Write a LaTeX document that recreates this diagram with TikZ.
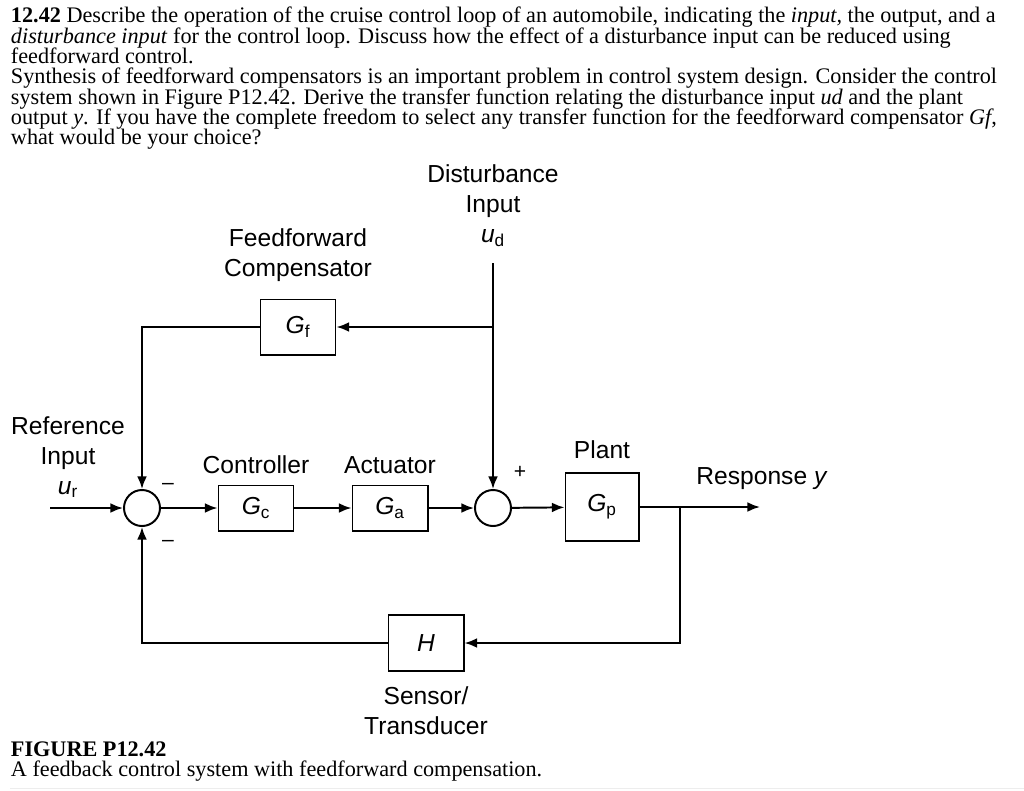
\documentclass[tikz,border=0pt]{standalone}
\usepackage{fontspec}
\setmainfont{Liberation Serif}
\newfontfamily\diagfont{Liberation Sans}
\usetikzlibrary{arrows.meta, positioning}
\newcommand{\sig}[2]{{\itshape #1}\textsubscript{#2}}
\lineskiplimit=-20pt

\begin{document}
\begin{tikzpicture}[x=0.025cm, y=-0.025cm, line width=1.4pt, >={Latex[length=9pt,width=7pt]}]
      \tikzstyle{block}=[rectangle, draw, inner sep=0pt, minimum width=1.875cm, minimum height=1.125cm, font=\diagfont\fontsize{17.5}{21}\selectfont]
      \tikzstyle{junction}=[circle, draw, inner sep=0pt, minimum size=0.9cm]
      \tikzstyle{tag}=[inner sep=0pt, align=center, font=\diagfont\fontsize{17.5}{21.3}\selectfont]
      \tikzstyle{sign}=[inner sep=0pt, font=\diagfont\fontsize{15}{16}\selectfont]
      \tikzstyle{prose}=[inner sep=0pt, align=left, anchor=west, font=\fontsize{15.8}{14.5}\selectfont]
      \useasboundingbox (0,0) rectangle (1024,790);
      \node[prose, anchor=north west] (question) at (10,6) {\textbf{12.42} Describe the operation of the cruise control loop of an automobile, indicating the \emph{input,} the output, and a\\
        \emph{disturbance input} for the control loop. Discuss how the effect of a disturbance input can be reduced using\\
        feedforward control.\\
        Synthesis of feedforward compensators is an important problem in control system design. Consider the control\\
        system shown in Figure P12.42. Derive the transfer function relating the disturbance input \emph{ud} and the plant\\
        output \emph{y}. If you have the complete freedom to select any transfer function for the feedforward compensator \emph{Gf},\\
        what would be your choice?};
      \node[junction] (s1) at (142,508) {};
      \node[block] (gc) at (256,508) {\sig{G}{c}};
      \node[block] (ga) at (390,508) {\sig{G}{a}};
      \node[junction] (s2) at (493,508) {};
      \node[block, minimum width=1.825cm, minimum height=1.7cm] (gp) at (602,507) {\sig{G}{p}};
      \node[block, minimum height=1.375cm] (gf) at (298,327) {\sig{G}{f}};
      \node[block, minimum height=1.4cm] (h) at (426,643) {\textit{H}};
      \node[tag, above=0.25cm of gc] (controller) {Controller};
      \node[tag, above=0.25cm of ga] (actuator) {Actuator};
      \node[tag, above=0.3cm of gp] (plant) {Plant};
      \node[tag, above=0.4cm of gf] (ffwd) {Feedforward\\Compensator};
      \node[tag, below=0.35cm of h] (sensor) {Sensor/\\Transducer};
      \node[tag] (refin) at (68,457) {Reference\\Input\\\sig{u}{r}};
      \node[tag] (distin) at (493,206) {Disturbance\\Input\\\sig{u}{d}};
      \node[tag] (resp) at (762,479) {Response \textit{y}};
      \node[sign] (m1) at (168,486) {\textendash};
      \node[sign] (m2) at (168,543) {\textendash};
      \node[sign] (p2) at (520,472) {+};
      \coordinate (uin) at (50,508);
      \coordinate (udin) at (493,263);
      \coordinate (udfork) at (493,327);
      \coordinate (yfork) at (680,507);
      \coordinate (yout) at (760,507);
      \draw[->] (uin) -- (s1);
      \draw[->] (s1) -- (gc);
      \draw[->] (gc) -- (ga);
      \draw[->] (ga) -- (s2);
      \draw[->] (s2) -- (gp);
      \draw[->] (gp) -- (yout);
      \draw[->] (udin) -- (s2);
      \draw[->] (udfork) -- (gf);
      \draw[->] (gf) -| (s1);
      \draw[->] (yfork) |- (h);
      \draw[->] (h) -| (s1);
      \node[prose, font=\fontsize{15.8}{14.5}\selectfont\bfseries] (figno) at (10,749) {FIGURE P12.42};
      \node[prose] (caption) at (10,771) {A feedback control system with feedforward compensation.};
      \draw[line width=0.7pt, black!7] (10,788) -- (1024,788);
  \end{tikzpicture}
\end{document}
